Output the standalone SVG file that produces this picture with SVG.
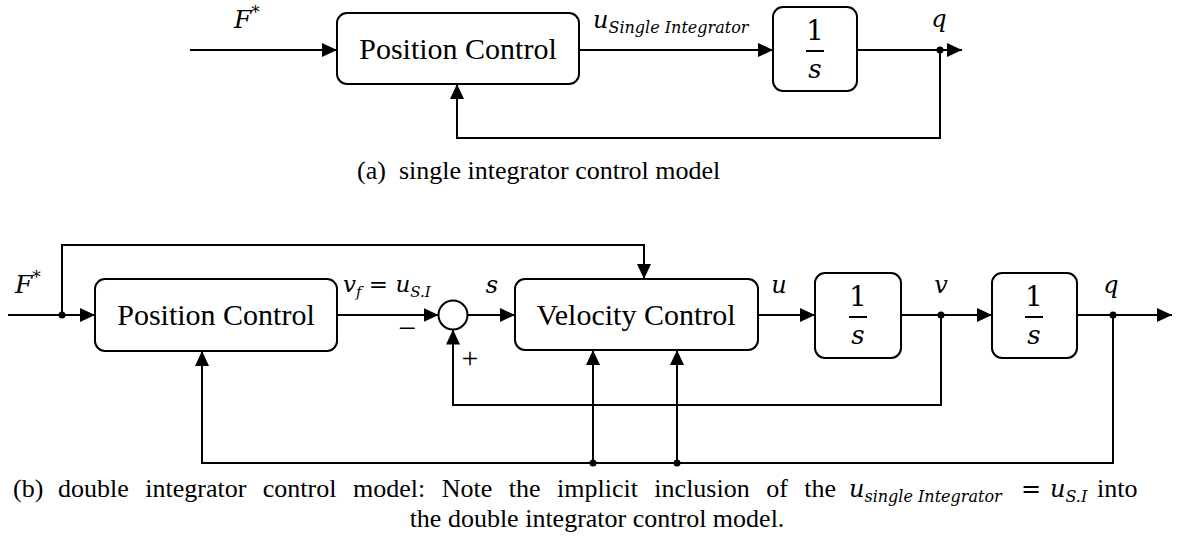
<svg xmlns="http://www.w3.org/2000/svg" width="1193" height="538" viewBox="0 0 1193 538">
  <style>
    .blk { fill: #fff; stroke: #000; stroke-width: 2; }
    .wire { fill: none; stroke: #000; stroke-width: 2; }
    .dot { fill: #000; }
    .rm { font-family: "Liberation Serif", "Times New Roman", serif; fill: #000; }
    .mi { font-family: "DejaVu Serif", "Liberation Serif", serif; font-style: italic; fill: #000; }
    .mn { font-family: "DejaVu Serif", "Liberation Serif", serif; font-style: normal; fill: #000; }
  </style>
  <defs>
    <marker id="arr" viewBox="0 0 15 14" refX="15" refY="7" markerWidth="15" markerHeight="14" markerUnits="userSpaceOnUse" orient="auto">
      <path d="M0,0 L15,7 L0,14 Z" fill="#000"/>
    </marker>
  </defs>

  <!-- (a) single integrator loop -->
  <g id="a-connectors">
    <path class="wire" d="M190,50 H337" marker-end="url(#arr)"/>
    <path class="wire" d="M579,50 H773" marker-end="url(#arr)"/>
    <path class="wire" d="M857,50 H962" marker-end="url(#arr)"/>
    <path class="wire" d="M940,50 V138 H457 V84" marker-end="url(#arr)"/>
    <circle class="dot" cx="940" cy="50" r="3.5"/>
  </g>
  <g id="a-labels">
    <text class="mi" x="234" y="28" font-size="25">F<tspan font-size="17" dy="-10" font-style="normal">*</tspan></text>
    <text class="mi" x="593" y="28" font-size="24">u<tspan font-size="16" dy="5">Single Integrator</tspan></text>
    <text class="mi" x="939" y="27" font-size="24" text-anchor="middle">q</text>
  </g>
  <g id="a-position-control">
    <rect class="blk" x="337" y="13" width="242" height="71" rx="10"/>
    <text class="rm" x="458" y="59" font-size="30" text-anchor="middle">Position Control</text>
  </g>
  <g id="a-integrator">
    <rect class="blk" x="773" y="7" width="84" height="84" rx="10"/>
    <text class="mn" x="815" y="40" font-size="28" text-anchor="middle">1</text>
    <line class="wire" x1="806" y1="51" x2="824" y2="51"/>
    <text class="mi" x="815" y="78" font-size="26" text-anchor="middle">s</text>
  </g>
  <g id="a-caption">
    <text class="rm" x="357" y="179" font-size="26">(a)</text>
    <text class="rm" x="399" y="179" font-size="26">single integrator control model</text>
  </g>

  <!-- (b) double integrator loop -->
  <g id="b-connectors">
    <path class="wire" d="M8,315 H95" marker-end="url(#arr)"/>
    <path class="wire" d="M62,315 V245 H644 V279" marker-end="url(#arr)"/>
    <path class="wire" d="M337,315 H438.5" marker-end="url(#arr)"/>
    <path class="wire" d="M467.5,315 H515" marker-end="url(#arr)"/>
    <path class="wire" d="M758,315 H815" marker-end="url(#arr)"/>
    <path class="wire" d="M901,315 H992" marker-end="url(#arr)"/>
    <path class="wire" d="M1077,315 H1172" marker-end="url(#arr)"/>
    <path class="wire" d="M941,315 V405 H453 V329.5" marker-end="url(#arr)"/>
    <path class="wire" d="M1113,315 V463 H202 V351" marker-end="url(#arr)"/>
    <path class="wire" d="M593,463 V350" marker-end="url(#arr)"/>
    <path class="wire" d="M677,463 V350" marker-end="url(#arr)"/>
    <circle class="dot" cx="62" cy="315" r="3.5"/>
    <circle class="dot" cx="941" cy="315" r="3.5"/>
    <circle class="dot" cx="1113" cy="315" r="3.5"/>
    <circle class="dot" cx="593" cy="463" r="3.5"/>
    <circle class="dot" cx="677" cy="463" r="3.5"/>
  </g>
  <g id="b-labels">
    <text class="mi" x="15" y="293" font-size="25">F<tspan font-size="17" dy="-10" font-style="normal">*</tspan></text>
    <text class="mi" x="343" y="292" font-size="23">v<tspan font-size="15" dy="5">f</tspan><tspan dy="-5" font-style="normal"> = </tspan>u<tspan font-size="15" dy="5">S.I</tspan></text>
    <text class="rm" x="407" y="339" font-size="32" text-anchor="middle">−</text>
    <text class="rm" x="470" y="368" font-size="30" text-anchor="middle">+</text>
    <text class="mi" x="492" y="293" font-size="24" text-anchor="middle">s</text>
    <text class="mi" x="779" y="293" font-size="24" text-anchor="middle">u</text>
    <text class="mi" x="941" y="293" font-size="24" text-anchor="middle">v</text>
    <text class="mi" x="1111" y="293" font-size="24" text-anchor="middle">q</text>
  </g>
  <g id="b-position-control">
    <rect class="blk" x="95" y="279" width="242" height="72" rx="10"/>
    <text class="rm" x="216" y="325" font-size="30" text-anchor="middle">Position Control</text>
  </g>
  <g id="b-sum">
    <circle class="blk" cx="453" cy="315" r="14.5"/>
  </g>
  <g id="b-velocity-control">
    <rect class="blk" x="515" y="279" width="243" height="71" rx="10"/>
    <text class="rm" x="636" y="325" font-size="30" text-anchor="middle">Velocity Control</text>
  </g>
  <g id="b-integrator-1">
    <rect class="blk" x="815" y="273" width="86" height="85" rx="10"/>
    <text class="mn" x="858" y="306" font-size="28" text-anchor="middle">1</text>
    <line class="wire" x1="849" y1="317" x2="867" y2="317"/>
    <text class="mi" x="858" y="344" font-size="26" text-anchor="middle">s</text>
  </g>
  <g id="b-integrator-2">
    <rect class="blk" x="992" y="273" width="85" height="85" rx="10"/>
    <text class="mn" x="1034" y="306" font-size="28" text-anchor="middle">1</text>
    <line class="wire" x1="1025" y1="317" x2="1043" y2="317"/>
    <text class="mi" x="1034" y="344" font-size="26" text-anchor="middle">s</text>
  </g>
  <g id="b-caption">
    <text class="rm" x="13" y="497" font-size="26">(b)</text>
    <text class="rm" x="58" y="497" font-size="26" word-spacing="10">double integrator control model: Note the implicit inclusion of the</text>
    <text class="mi" x="849" y="497" font-size="24">u<tspan font-size="16" dy="5">single Integrator</tspan></text>
    <text class="mn" x="1031" y="497" font-size="24" text-anchor="middle">=</text>
    <text class="mi" x="1050" y="497" font-size="24">u<tspan font-size="16" dy="5">S.I</tspan></text>
    <text class="rm" x="1097" y="497" font-size="26">into</text>
    <text class="rm" x="597" y="527" font-size="26" text-anchor="middle">the double integrator control model.</text>
  </g>
</svg>
